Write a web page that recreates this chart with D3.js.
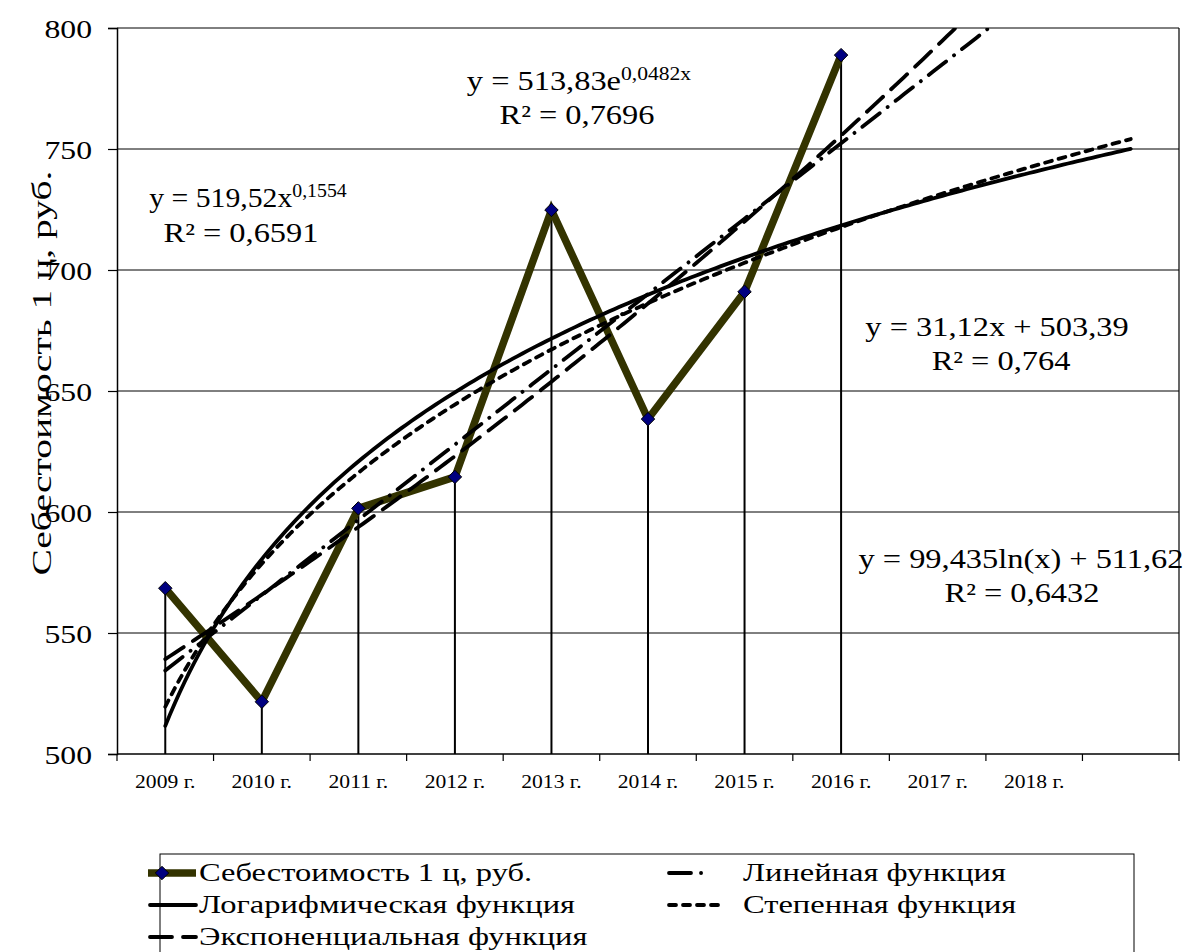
<!DOCTYPE html>
<html>
<head>
<meta charset="utf-8">
<script src="https://cdn.jsdelivr.net/npm/d3@7/dist/d3.min.js"></script>
<style>
  html, body { margin: 0; padding: 0; background: #fff; }
  svg text { font-family: "Liberation Serif", "Times New Roman", serif; fill: #000; }
</style>
</head>
<body>
<svg id="chart" width="1183" height="952" font-family="Liberation Serif, Times New Roman, serif"></svg>
<script>
// Categories on the x axis (the last slot is left blank for the forecast period)
const years = ["2009 г.", "2010 г.", "2011 г.", "2012 г.", "2013 г.", "2014 г.", "2015 г.", "2016 г.", "2017 г.", "2018 г.", ""];
// Cost of 1 centner, rubles
const cost = [568.5, 521.6, 601.5, 614.5, 724.8, 638.4, 691.0, 788.8];
const yTicks = [500, 550, 600, 650, 700, 750, 800];

// Trend coefficients (as printed in the equations)
const linCoef = [31.12, 503.39];      // y = a*x + b
const logCoef = [99.435, 511.62];     // y = a*ln(x) + b
const powCoef = [519.52, 0.1554];     // y = a*x^b
const expCoef = [513.83, 0.0482];     // y = a*e^(b*x)
const trendRange = [1, 11];           // period 1 .. 8 plus three periods forward

const FONT = "Liberation Serif";
const svg = d3.select("#chart");
const plotL = 117, plotR = 1179, plotT = 28, plotB = 754;
const stretch = 1.2;   // horizontal glyph stretch used for all labels

const xBand = d3.scaleBand().domain(years).range([plotL, plotR]).padding(0);
const xNum = d3.scaleLinear().domain([0.5, years.length + 0.5]).range([plotL, plotR]);
const y = d3.scaleLinear().domain([500, 800]).range([plotB, plotT]);

svg.append("clipPath").attr("id", "plotClip")
  .append("rect").attr("x", plotL).attr("y", plotT).attr("width", plotR - plotL).attr("height", plotB - plotT);

// horizontal gridlines
svg.append("g").selectAll("line").data(yTicks.filter(d => d > 500)).join("line")
  .attr("x1", plotL).attr("x2", plotR)
  .attr("y1", d => y(d)).attr("y2", d => y(d))
  .attr("stroke", "#000").attr("stroke-width", 1);
// right border of the plot area
svg.append("line").attr("x1", plotR).attr("x2", plotR).attr("y1", plotT).attr("y2", plotB)
  .attr("stroke", "#000").attr("stroke-width", 1.2);

// y axis
const yAxis = svg.append("g").attr("transform", `translate(${plotL},0)`)
  .call(d3.axisLeft(y).tickValues(yTicks).tickSize(9).tickFormat(d3.format("d")));
yAxis.attr("font-family", FONT).attr("font-size", null);
yAxis.select(".domain").attr("stroke", "#000").attr("stroke-width", 1.5);
yAxis.selectAll(".tick line").attr("stroke", "#000").attr("stroke-width", 1.2);
yAxis.selectAll(".tick text")
  .attr("font-family", FONT).attr("font-size", 26)
  .attr("transform", `translate(-25,0) scale(1.22,1)`).attr("x", 0)
  .attr("dy", "0.35em");

// x axis: ticks at category boundaries
const xAxisG = svg.append("g").attr("transform", `translate(0,${plotB})`);
xAxisG.append("line").attr("x1", plotL).attr("x2", plotR).attr("stroke", "#000").attr("stroke-width", 1.5);
xAxisG.selectAll("line.tk").data(d3.range(years.length + 1)).join("line").attr("class", "tk")
  .attr("x1", i => plotL + i * xBand.bandwidth()).attr("x2", i => plotL + i * xBand.bandwidth())
  .attr("y1", 0).attr("y2", 7).attr("stroke", "#000").attr("stroke-width", 1.2);
xAxisG.selectAll("text").data(years).join("text")
  .attr("transform", d => `translate(${xBand(d) + xBand.bandwidth() / 2},34) scale(${stretch},1)`)
  .attr("text-anchor", "middle").attr("font-family", FONT).attr("font-size", 18).text(d => d);

// y axis title
svg.append("text").attr("transform", "translate(51,373) rotate(-90)")
  .attr("text-anchor", "middle").attr("font-family", FONT).attr("font-size", 28)
  .attr("textLength", 405).attr("lengthAdjust", "spacingAndGlyphs")
  .text("Себестоимость 1 ц, руб.");

// drop lines from points to the axis
const pts = cost.map((v, i) => ({ x: xBand(years[i]) + xBand.bandwidth() / 2, y: y(v) }));
svg.append("g").selectAll("line").data(pts).join("line")
  .attr("x1", d => d.x).attr("x2", d => d.x).attr("y1", d => d.y).attr("y2", plotB)
  .attr("stroke", "#000").attr("stroke-width", 2);

// data series
const olive = "#333300";
svg.append("path").datum(pts)
  .attr("d", d3.line().x(d => d.x).y(d => d.y))
  .attr("fill", "none").attr("stroke", olive).attr("stroke-width", 7.5).attr("stroke-linejoin", "miter");

// trendlines
const dashes = { log: null, pow: "7,7", exp: "22,11", lin: "22,10,0.1,10" };
const trendDefs = [
  { f: x => logCoef[0] * Math.log(x) + logCoef[1], dash: dashes.log },
  { f: x => powCoef[0] * Math.pow(x, powCoef[1]), dash: dashes.pow },
  { f: x => expCoef[0] * Math.exp(expCoef[1] * x), dash: dashes.exp },
  { f: x => linCoef[0] * x + linCoef[1], dash: dashes.lin }
];
const samples = d3.range(trendRange[0], trendRange[1] + 0.0001, 0.05);
const tg = svg.append("g").attr("clip-path", "url(#plotClip)");
trendDefs.forEach(t => {
  tg.append("path").datum(samples)
    .attr("d", d3.line().x(s => xNum(s)).y(s => y(t.f(s))))
    .attr("fill", "none").attr("stroke", "#000").attr("stroke-width", 3.8)
    .attr("stroke-linecap", "round")
    .attr("stroke-dasharray", t.dash);
});

// markers
const diamond = d3.symbol().type(d3.symbolDiamond2).size(115);
svg.append("g").selectAll("path").data(pts).join("path")
  .attr("transform", d => `translate(${d.x},${d.y})`)
  .attr("d", diamond).attr("fill", "#000080").attr("stroke", "#000").attr("stroke-width", 1);

// trend equations
function eqText(xc, yb, parts, sx) {
  const t = svg.append("text").attr("transform", `translate(${xc},${yb}) scale(${sx || stretch},1)`)
    .attr("text-anchor", "middle").attr("font-family", FONT).attr("font-size", 27);
  parts.forEach(p => {
    const s = t.append("tspan").text(p.text);
    if (p.sup) s.attr("font-size", 18).attr("baseline-shift", "super");
  });
}
eqText(579, 90, [{ text: "y = 513,83e" }, { text: "0,0482x", sup: true }]);
eqText(577, 124, [{ text: "R² = 0,7696" }]);
eqText(248, 207, [{ text: "y = 519,52x" }, { text: "0,1554", sup: true }], 1.1);
eqText(241, 242, [{ text: "R² = 0,6591" }]);
eqText(997, 336, [{ text: "y = 31,12x + 503,39" }]);
eqText(1001, 370, [{ text: "R² = 0,764" }]);
eqText(1021, 568, [{ text: "y = 99,435ln(x) + 511,62" }]);
eqText(1022, 602, [{ text: "R² = 0,6432" }]);

// legend
const lg = svg.append("g");
lg.append("rect").attr("x", 160).attr("y", 854).attr("width", 974).attr("height", 140)
  .attr("fill", "#fff").attr("stroke", "#000").attr("stroke-width", 1);
const legendItems = [
  { label: "Себестоимость 1 ц, руб.", col: 0, row: 0, kind: "series", len: 48 },
  { label: "Линейная функция", col: 1, row: 0, kind: "trend", dash: dashes.lin, len: 36 },
  { label: "Логарифмическая функция", col: 0, row: 1, kind: "trend", dash: dashes.log, len: 48 },
  { label: "Степенная функция", col: 1, row: 1, kind: "trend", dash: dashes.pow, len: 58 },
  { label: "Экспоненциальная функция", col: 0, row: 2, kind: "trend", dash: dashes.exp, len: 48 }
];
const colX = [148, 667], rowY = [873, 905, 937];
legendItems.forEach(it => {
  const x0 = colX[it.col], yy = rowY[it.row];
  if (it.kind === "series") {
    lg.append("line").attr("x1", x0).attr("x2", x0 + it.len).attr("y1", yy).attr("y2", yy)
      .attr("stroke", olive).attr("stroke-width", 7.5);
    lg.append("path").attr("transform", `translate(${x0 + 14},${yy})`).attr("d", diamond)
      .attr("fill", "#000080").attr("stroke", "#000").attr("stroke-width", 1);
  } else {
    lg.append("line").attr("x1", x0 + 2).attr("x2", x0 + it.len).attr("y1", yy).attr("y2", yy)
      .attr("stroke", "#000").attr("stroke-width", 3.8).attr("stroke-linecap", "round")
      .attr("stroke-dasharray", it.dash);
  }
  lg.append("text")
    .attr("transform", `translate(${it.col === 0 ? 199 : 743},${yy + 8}) scale(1.25,1)`)
    .attr("font-family", FONT).attr("font-size", 26).text(it.label);
});
</script>
</body>
</html>
